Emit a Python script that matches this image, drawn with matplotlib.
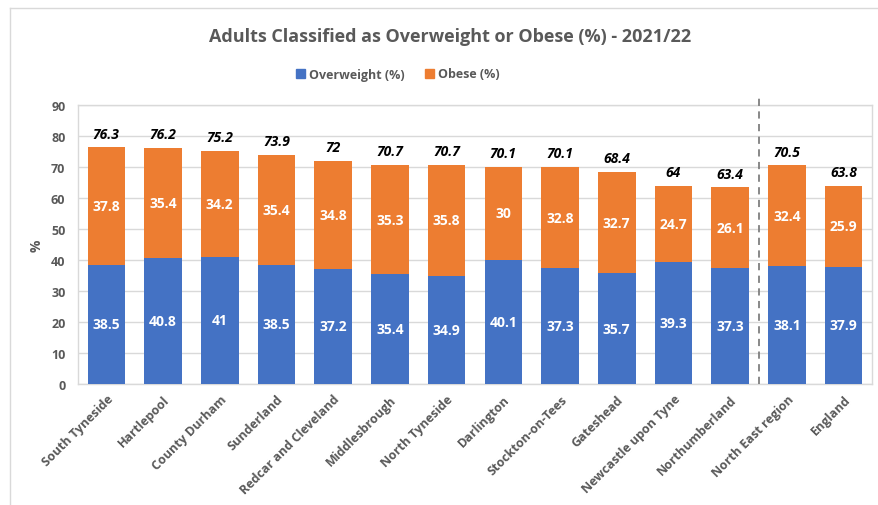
import matplotlib
matplotlib.use("Agg")
import matplotlib.pyplot as plt
from matplotlib.lines import Line2D
import numpy as np

categories = ["South Tyneside", "Hartlepool", "County Durham", "Sunderland",
              "Redcar and Cleveland", "Middlesbrough", "North Tyneside", "Darlington",
              "Stockton-on-Tees", "Gateshead", "Newcastle upon Tyne", "Northumberland",
              "North East region", "England"]
overweight = [38.5, 40.8, 41, 38.5, 37.2, 35.4, 34.9, 40.1, 37.3, 35.7, 39.3, 37.3, 38.1, 37.9]
obese = [37.8, 35.4, 34.2, 35.4, 34.8, 35.3, 35.8, 30, 32.8, 32.7, 24.7, 26.1, 32.4, 25.9]
totals = [76.3, 76.2, 75.2, 73.9, 72, 70.7, 70.7, 70.1, 70.1, 68.4, 64, 63.4, 70.5, 63.8]
yticks = [0, 10, 20, 30, 40, 50, 60, 70, 80, 90]

plt.rcParams['font.family'] = ['Open Sans', 'DejaVu Sans']
BLUE = "#4472C4"
ORANGE = "#ED7D31"
GRAY = "#595959"

fig = plt.figure(figsize=(8.79, 5.06), dpi=100)
ax = fig.add_axes([78/879, 1-385/506, (872-78)/879, (385-106)/506])

x = np.arange(len(categories))
ax.bar(x, overweight, width=0.66, color=BLUE, label="Overweight (%)", zorder=3)
ax.bar(x, obese, width=0.66, bottom=overweight, color=ORANGE, label="Obese (%)", zorder=3)

for i in range(len(categories)):
    ax.text(x[i], overweight[i]/2, f"{overweight[i]:g}", ha='center', va='center',
            color='white', fontsize=10, fontweight='bold', zorder=4)
    ax.text(x[i], overweight[i] + obese[i]/2, f"{obese[i]:g}", ha='center', va='center',
            color='white', fontsize=10, fontweight='bold', zorder=4)
    ax.text(x[i], totals[i] + 2.2, f"{totals[i]:g}", ha='center', va='bottom',
            color='black', fontsize=10, fontweight='bold', fontstyle='italic', zorder=4)

ax.set_xlim(-0.5, len(categories) - 0.5)
ax.set_ylim(0, 90)
ax.set_yticks(yticks)
ax.set_yticklabels([str(t) for t in yticks], color=GRAY, fontsize=9, fontweight='bold')
ax.set_xticks(x)
ax.set_xticklabels(categories, rotation=45, ha='right', rotation_mode='anchor',
                   color=GRAY, fontsize=9, fontweight='bold')
ax.tick_params(axis='both', length=0)
ax.tick_params(axis='y', pad=9)
ax.tick_params(axis='x', pad=6)
ax.grid(axis='y', color="#D9D9D9", linewidth=1, zorder=0)
for s in ax.spines.values():
    s.set_color("#D9D9D9")
    s.set_linewidth(1)

ax.set_ylabel("%", color=GRAY, fontsize=10, fontweight='bold', labelpad=5)

# divider between local areas and comparators
ax.plot([11.5, 11.5], [0, 93], linestyle=(0, (4, 3)), color="#7F7F7F", linewidth=1.3,
        clip_on=False, zorder=5)

fig.text(0.5125, 1-37/506, "Adults Classified as Overweight or Obese (%) - 2021/22",
         ha='center', va='center', color=GRAY, fontsize=13, fontweight='bold')

handles = [plt.Rectangle((0, 0), 1, 1, color=BLUE), plt.Rectangle((0, 0), 1, 1, color=ORANGE)]
leg = fig.legend(handles, ["Overweight (%)", "Obese (%)"], loc='center',
                 bbox_to_anchor=(398/879, 1-75/506), ncol=2, frameon=False,
                 handlelength=0.7, handleheight=0.7, handletextpad=0.35, columnspacing=1.6,
                 prop={'size': 9, 'weight': 'bold'})
for t in leg.get_texts():
    t.set_color(GRAY)

# outer chart border
fig.add_artist(Line2D([10/879, 10/879], [0, 1-9/506], color="#D9D9D9", linewidth=1))
fig.add_artist(Line2D([10/879, 1], [1-9/506, 1-9/506], color="#D9D9D9", linewidth=1))

fig.savefig("out.png", dpi=100)
